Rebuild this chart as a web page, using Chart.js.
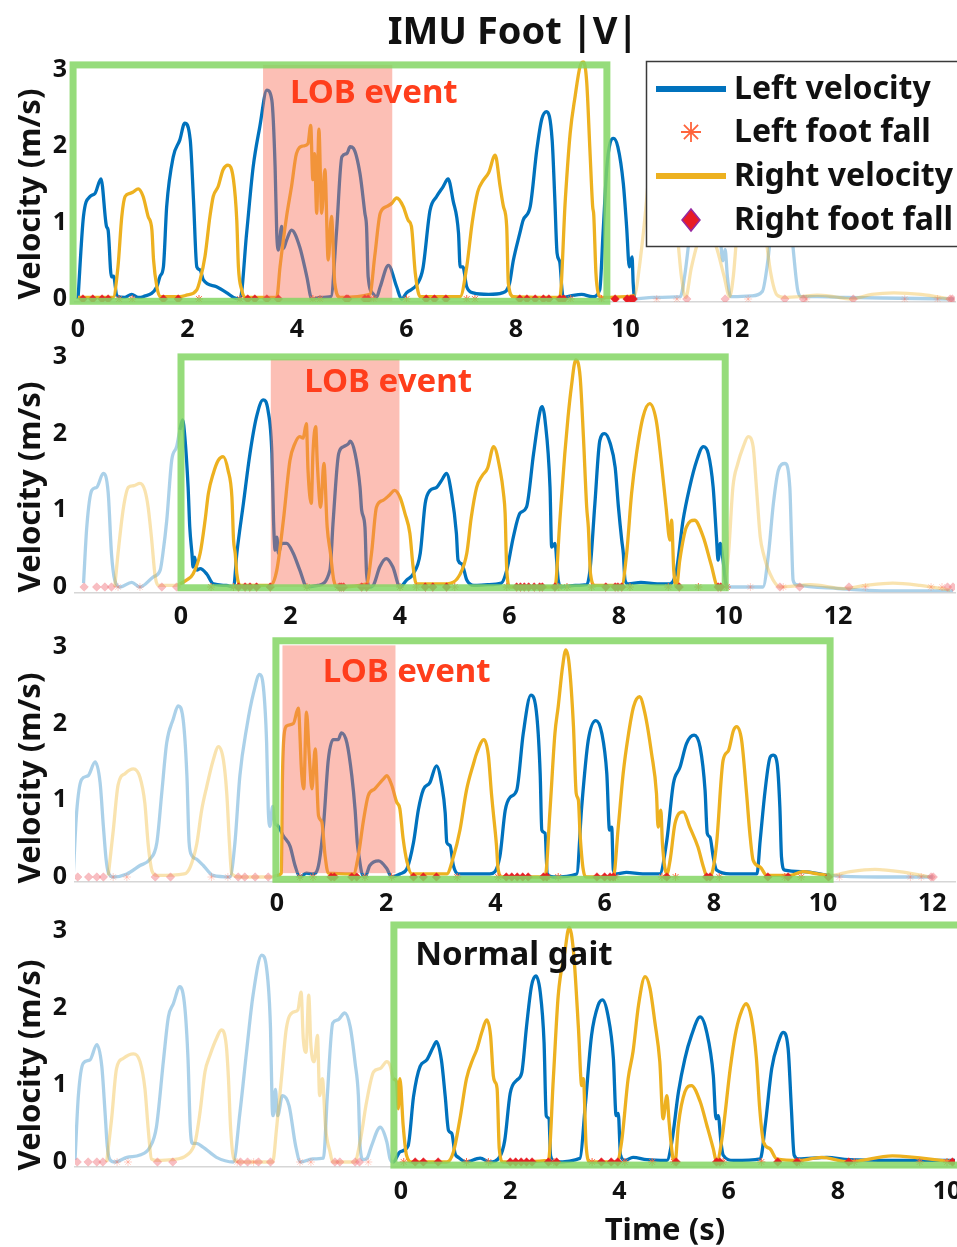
<!DOCTYPE html>
<html><head><meta charset="utf-8">
<script src="https://cdn.jsdelivr.net/npm/chart.js@4.4.1/dist/chart.umd.min.js"></script>
<style>
html,body{margin:0;padding:0;background:#fff;}
#wrap{position:relative;width:957px;height:1247px;overflow:hidden;background:#fff;}
canvas{position:absolute;left:0;}
</style></head><body><div id="wrap">
<canvas id="c1" width="957" height="340" style="top:0px"></canvas>
<canvas id="c2" width="957" height="290" style="top:340px"></canvas>
<canvas id="c3" width="957" height="290" style="top:630px"></canvas>
<canvas id="c4" width="957" height="327" style="top:920px"></canvas>
</div>
<script>
// ---------------- DATA (time s, velocity m/s) ----------------
const p1LeftVel = [[0,0],[0.1,1.08],[0.22,1.34],[0.31,1.38],[0.42,1.57],[0.52,0.95],[0.55,0.9],[0.61,0.29],[0.65,0.3],[0.71,0.04],[0.85,0.02],[0.98,0.06],[1.1,0.02],[1.19,0.03],[1.44,0.16],[1.5,0.3],[1.56,0.42],[1.62,1.21],[1.74,1.86],[1.86,2.08],[1.95,2.3],[2.05,2.08],[2.11,1.29],[2.17,0.42],[2.23,0.38],[2.29,0.25],[2.53,0.16],[2.72,0.08],[2.84,0.02],[2.96,0],[3.08,0.86],[3.2,1.73],[3.32,2.25],[3.45,2.73],[3.54,2.6],[3.6,1.73],[3.63,0.86],[3.66,0.64],[3.72,0.95],[3.75,0.66],[3.81,0.77],[3.9,0.9],[4.05,0.68],[4.18,0.29],[4.27,0],[4.42,0.02],[4.62,0.03],[4.72,0.86],[4.82,1.86],[4.91,1.9],[4.97,1.99],[5.03,1.97],[5.15,1.64],[5.24,1.12],[5.27,0.95],[5.3,0.29],[5.39,0.07],[5.45,0.02],[5.52,0.16],[5.67,0.44],[5.82,0.16],[5.91,0],[6.0,0.08],[6.2,0.2],[6.3,0.4],[6.43,1.16],[6.55,1.34],[6.67,1.47],[6.76,1.57],[6.85,1.29],[6.95,0.86],[6.98,0.42],[7.03,0.42],[7.1,0.16],[7.22,0.08],[7.5,0.06],[7.75,0.08],[7.88,0.2],[7.95,0.5],[8.07,0.86],[8.13,1.03],[8.26,1.21],[8.38,1.95],[8.47,2.35],[8.56,2.45],[8.66,2.08],[8.71,1.29],[8.75,0.6],[8.8,0.48],[8.84,0.12],[8.86,0.02],[9.0,0.04],[9.2,0.06],[9.4,0.03],[9.53,0.12],[9.59,0.86],[9.66,1.73],[9.72,2.04],[9.78,2.1],[9.86,1.99],[9.96,1.51],[10.02,0.95],[10.07,0.42],[10.12,0.55],[10.14,0.21],[10.17,0],[10.5,0.02],[11.0,0.03],[11.08,0.3],[11.2,1.0],[11.35,1.7],[11.5,1.85],[11.62,1.5],[11.72,0.9],[11.78,0.5],[11.82,0.65],[11.86,0.3],[11.92,0.03],[12.3,0.04],[12.5,0.1],[12.6,0.5],[12.72,1.3],[12.85,1.6],[12.97,1.4],[13.07,0.6],[13.15,0.1],[13.22,0.03],[13.5,0.03],[14.0,0.02],[15.0,0.01],[16.0,0]];
const p1RightVel = [[0,0.02],[0.64,0.02],[0.73,0.42],[0.8,1.08],[0.86,1.34],[0.95,1.38],[1.01,1.4],[1.1,1.44],[1.19,1.34],[1.28,1.08],[1.35,0.9],[1.38,0.51],[1.44,0.16],[1.5,0.03],[1.86,0.03],[1.98,0.05],[2.17,0.12],[2.23,0.25],[2.32,0.56],[2.41,1.08],[2.47,1.34],[2.56,1.47],[2.65,1.69],[2.74,1.75],[2.84,1.56],[2.9,1.03],[2.93,0.42],[2.99,0.12],[3.05,0.02],[3.63,0.02],[3.69,0.42],[3.81,1.08],[3.9,1.47],[3.99,1.9],[4.11,2.0],[4.2,2.03],[4.25,2.27],[4.29,1.56],[4.32,1.9],[4.36,1.12],[4.4,2.22],[4.45,1.12],[4.51,1.69],[4.57,0.51],[4.63,1.08],[4.69,0.21],[4.79,0.02],[5.33,0.06],[5.42,0.56],[5.52,1.12],[5.64,1.21],[5.73,1.25],[5.82,1.32],[5.94,1.21],[6.03,1.03],[6.09,0.95],[6.16,0.34],[6.25,0.03],[6.98,0.03],[7.1,0.42],[7.2,1.0],[7.3,1.4],[7.4,1.55],[7.5,1.65],[7.62,1.88],[7.71,1.47],[7.77,1.21],[7.83,0.95],[7.86,0.21],[7.95,0.03],[8.8,0.02],[8.9,1.29],[8.99,2.17],[9.08,2.65],[9.17,3.04],[9.23,3.1],[9.29,2.85],[9.35,1.95],[9.4,1.21],[9.42,1.1],[9.46,0.34],[9.5,0.08],[9.56,0.02],[10.0,0.03],[10.17,0.05],[10.25,0.4],[10.36,1.1],[10.45,1.8],[10.6,2.4],[10.72,2.1],[10.85,1.2],[10.95,0.8],[11.02,0.3],[11.1,0.02],[11.2,0.4],[11.35,0.8],[11.5,0.9],[11.65,0.7],[11.8,0.3],[11.9,0.03],[11.97,0.3],[12.04,0.9],[12.15,1.6],[12.3,2.0],[12.42,1.7],[12.55,0.9],[12.65,0.35],[12.77,0.05],[12.9,0.02],[13.2,0.03],[13.5,0.05],[13.8,0.03],[14.1,0],[14.5,0.06],[14.9,0.08],[15.4,0.06],[15.93,0]];
const p1LeftFall = [0.75,0.99,2.21,2.96,4.29,4.42,5.4,6.0,7.1,7.25,8.86,9.0,9.56,10.57,10.94,12.24,13.3,15.1,15.7];
const p1RightFall = [0.09,0.27,0.44,0.55,1.56,1.83,3.1,3.23,3.45,3.66,4.9,4.93,5.24,5.3,6.36,6.51,6.72,8.07,8.2,8.35,8.5,8.6,8.8,8.87,9.81,10.03,10.1,10.14,11.12,11.82,12.91,13.25,14.16,15.93,15.97];

const p2LeftVel = [[-1.78,0.05],[-1.72,0.79],[-1.63,1.26],[-1.54,1.3],[-1.42,1.48],[-1.33,1.23],[-1.27,0.44],[-1.21,0.09],[-1.11,0],[-0.9,0.06],[-0.75,0],[-0.51,0.13],[-0.38,0.22],[-0.33,0.44],[-0.26,0.87],[-0.17,1.65],[-0.08,1.83],[-0.02,2.05],[0.03,2.18],[0.07,1.96],[0.13,1.3],[0.16,0.78],[0.2,0.44],[0.22,0.26],[0.25,0.39],[0.29,0.22],[0.35,0.24],[0.47,0.17],[0.59,0.04],[0.83,0.02],[0.96,0],[1.02,0.44],[1.14,1.09],[1.26,1.74],[1.38,2.22],[1.5,2.44],[1.59,2.3],[1.66,1.74],[1.69,0.87],[1.72,0.48],[1.75,0.65],[1.78,0.44],[1.84,0.57],[1.93,0.57],[2.05,0.44],[2.17,0.22],[2.3,0],[2.5,0.02],[2.72,0.22],[2.78,0.87],[2.88,1.74],[2.97,1.83],[3.06,1.87],[3.09,1.9],[3.18,1.74],[3.27,1.3],[3.3,1.0],[3.36,0.78],[3.39,0.17],[3.45,0],[3.52,0.03],[3.63,0.26],[3.75,0.37],[3.87,0.26],[4.0,0],[4.12,0.09],[4.24,0.17],[4.37,0.44],[4.46,1.09],[4.55,1.26],[4.67,1.3],[4.76,1.39],[4.85,1.48],[4.94,1.22],[5.03,0.7],[5.06,0.35],[5.13,0.3],[5.22,0.09],[5.35,0.02],[5.6,0.03],[5.85,0.05],[5.95,0.22],[6.07,0.65],[6.19,0.96],[6.31,1.04],[6.44,1.74],[6.56,2.3],[6.6,2.35],[6.65,2.17],[6.74,1.3],[6.77,0.52],[6.83,0.57],[6.89,0.09],[6.95,0],[7.2,0.02],[7.41,0.03],[7.47,0.22],[7.56,1.09],[7.65,1.91],[7.74,2.0],[7.84,1.87],[7.93,1.56],[7.99,1.04],[8.05,0.61],[8.08,0.43],[8.11,0.09],[8.17,0.04],[8.4,0.06],[8.7,0.04],[8.93,0.04],[9.05,0.22],[9.17,0.87],[9.29,1.3],[9.42,1.65],[9.54,1.83],[9.63,1.74],[9.72,1.3],[9.78,0.65],[9.81,0.35],[9.85,0.57],[9.9,0.35],[9.97,0],[10.3,0],[10.63,0],[10.73,0.43],[10.82,1.09],[10.91,1.52],[11.03,1.61],[11.12,1.3],[11.15,0.65],[11.18,0.09],[11.24,0.03],[12.0,-0.02],[13.0,-0.05],[14.1,-0.05]];
const p2RightVel = [[-1.21,0],[-1.15,0.44],[-1.05,1.04],[-0.96,1.3],[-0.87,1.32],[-0.75,1.35],[-0.66,1.26],[-0.6,1.04],[-0.54,0.65],[-0.47,0.13],[-0.41,0.02],[-0.1,0.02],[-0.02,0.04],[0.1,0.09],[0.22,0.17],[0.35,0.44],[0.44,0.87],[0.5,1.22],[0.59,1.48],[0.68,1.65],[0.77,1.7],[0.86,1.52],[0.93,1.17],[0.96,0.61],[0.99,0.44],[1.02,0.17],[1.08,0.02],[1.63,0.02],[1.75,0.22],[1.87,0.87],[1.99,1.65],[2.08,1.87],[2.17,1.96],[2.23,1.94],[2.29,2.13],[2.32,1.52],[2.38,1.09],[2.41,1.74],[2.46,2.09],[2.49,1.61],[2.55,1.04],[2.61,1.61],[2.67,0.78],[2.73,0.44],[2.79,0.09],[2.87,0],[3.39,0.04],[3.48,0.44],[3.57,1.04],[3.69,1.13],[3.81,1.2],[3.9,1.26],[4.0,1.17],[4.09,0.96],[4.18,0.7],[4.24,0.26],[4.3,0.04],[4.85,0.04],[5.1,0.17],[5.22,0.44],[5.3,0.9],[5.4,1.3],[5.5,1.45],[5.6,1.55],[5.71,1.83],[5.83,1.52],[5.89,1.22],[5.92,0.96],[5.95,0.22],[6.01,0],[6.83,0],[6.92,0.87],[7.01,1.74],[7.07,2.22],[7.13,2.61],[7.21,2.96],[7.29,2.74],[7.35,1.96],[7.41,1.04],[7.44,0.78],[7.48,0.17],[7.56,0.02],[8.05,0.02],[8.14,0.44],[8.23,1.22],[8.32,1.74],[8.44,2.22],[8.56,2.39],[8.68,2.17],[8.77,1.65],[8.86,1.04],[8.93,0.61],[8.96,0.87],[9.0,0.22],[9.05,0],[9.11,0.35],[9.23,0.78],[9.38,0.87],[9.54,0.65],[9.68,0.3],[9.81,0],[9.92,0.02],[10.0,0.43],[10.08,1.3],[10.17,1.61],[10.27,1.83],[10.36,1.96],[10.45,1.83],[10.51,1.3],[10.58,0.65],[10.64,0.43],[10.76,0.17],[10.94,0],[11.5,0.03],[12.1,-0.02],[12.5,0.02],[13.0,0.05],[13.5,0.02],[14.05,-0.04]];
const p2LeftFall = [-1.15,-0.75,0.55,0.96,2.3,2.87,4.0,4.3,5.0,5.95,6.9,7.05,7.5,8.2,8.9,9.45,9.97,10.4,11.0,12.5,13.7,13.9];
const p2RightFall = [-1.77,-1.54,-1.39,-1.27,-0.35,-0.08,1.05,1.17,1.26,1.38,1.63,2.9,2.93,2.97,3.3,3.39,4.46,4.6,4.85,6.13,6.2,6.27,6.35,6.45,6.55,6.6,6.83,7.76,7.93,7.98,8.05,9.1,9.81,9.86,10.94,11.3,12.2,14.0,14.1];

const p3LeftVel = [[-3.73,0.05],[-3.67,0.84],[-3.58,1.27],[-3.46,1.32],[-3.33,1.5],[-3.24,1.23],[-3.18,0.66],[-3.13,0.23],[-3.09,0.06],[-3.0,0],[-2.75,0.04],[-2.51,0.15],[-2.33,0.23],[-2.2,0.45],[-2.11,1.1],[-2.02,1.75],[-1.9,2.06],[-1.81,2.23],[-1.72,2.06],[-1.65,1.32],[-1.61,0.45],[-1.56,0.28],[-1.47,0.23],[-1.35,0.15],[-1.17,0.02],[-0.86,0],[-0.77,0.45],[-0.68,1.32],[-0.55,1.97],[-0.43,2.4],[-0.32,2.64],[-0.25,2.48],[-0.19,1.75],[-0.16,0.88],[-0.13,0.66],[-0.08,0.92],[-0.04,0.7],[0,0.68],[0.12,0.53],[0.24,0.4],[0.33,0.15],[0.42,0],[0.54,0.05],[0.66,0.04],[0.76,0.15],[0.85,0.66],[0.94,1.53],[1.03,1.79],[1.12,1.79],[1.18,1.88],[1.28,1.75],[1.37,1.32],[1.43,0.88],[1.47,0.45],[1.51,0.23],[1.55,0.06],[1.61,0],[1.7,0.15],[1.86,0.21],[2.01,0.11],[2.1,0],[2.25,0.04],[2.38,0.11],[2.5,0.45],[2.59,0.88],[2.68,1.14],[2.8,1.23],[2.92,1.45],[3.02,1.19],[3.08,0.84],[3.11,0.45],[3.17,0.41],[3.23,0.15],[3.32,0.04],[3.6,0.04],[3.9,0.04],[4.08,0.26],[4.18,0.87],[4.27,1.04],[4.39,1.13],[4.51,1.87],[4.65,2.37],[4.76,2.09],[4.82,1.35],[4.85,0.61],[4.91,0.57],[4.95,0.04],[5.06,0],[5.49,0.04],[5.58,0.91],[5.7,1.78],[5.84,2.04],[5.95,1.87],[6.04,1.35],[6.09,0.61],[6.13,0.65],[6.16,0.09],[6.22,0.04],[6.4,0.06],[6.7,0.04],[7.01,0.04],[7.14,0.48],[7.26,1.22],[7.38,1.43],[7.5,1.74],[7.64,1.85],[7.75,1.69],[7.84,1.13],[7.88,0.57],[7.93,0.52],[7.99,0.26],[8.05,0.09],[8.3,0.04],[8.79,0.04],[8.85,0.48],[8.94,1.13],[9.03,1.56],[9.09,1.59],[9.16,1.48],[9.21,0.91],[9.24,0.26],[9.3,0.09],[9.64,0.07],[10.13,0.02],[11.0,0],[12.01,0]];
const p3RightVel = [[-3.09,0.02],[-3.0,0.6],[-2.91,1.2],[-2.78,1.35],[-2.63,1.41],[-2.51,1.3],[-2.42,0.96],[-2.36,0.43],[-2.29,0.08],[-2.2,0.02],[-1.7,0.04],[-1.59,0.13],[-1.47,0.43],[-1.38,0.87],[-1.29,1.17],[-1.17,1.52],[-1.07,1.7],[-0.98,1.52],[-0.92,1.09],[-0.87,0.43],[-0.83,0.04],[-0.68,0],[-0.1,0],[0,0.02],[0.08,0.05],[0.1,1.3],[0.13,1.85],[0.18,1.97],[0.3,2.0],[0.39,2.2],[0.45,1.37],[0.49,1.15],[0.54,2.15],[0.59,1.59],[0.64,1.15],[0.7,1.67],[0.76,0.8],[0.82,0.72],[0.88,0.28],[0.94,0.05],[1.4,0.04],[1.49,0.28],[1.58,0.72],[1.67,1.06],[1.79,1.15],[1.95,1.28],[2.01,1.32],[2.1,1.2],[2.19,0.98],[2.25,0.89],[2.31,0.5],[2.38,0.2],[2.47,0.04],[3.11,0.04],[3.23,0.26],[3.35,0.61],[3.47,1.13],[3.6,1.48],[3.66,1.62],[3.79,1.79],[3.87,1.59],[3.93,1.07],[3.96,0.85],[4.02,0.41],[4.05,0.1],[4.12,0],[4.91,0],[5.0,0.87],[5.09,1.87],[5.15,2.22],[5.23,2.74],[5.29,2.96],[5.35,2.78],[5.43,1.96],[5.48,1.09],[5.52,1.0],[5.55,0.57],[5.61,0.09],[5.67,0],[6.16,0],[6.25,0.65],[6.34,1.35],[6.43,1.83],[6.53,2.22],[6.64,2.35],[6.74,2.13],[6.86,1.61],[6.95,1.09],[6.98,0.65],[7.03,0.87],[7.06,0.43],[7.14,0.04],[7.2,0.22],[7.29,0.7],[7.44,0.85],[7.56,0.65],[7.71,0.39],[7.81,0.13],[7.88,0],[7.96,0.04],[8.05,0.43],[8.17,1.52],[8.27,1.65],[8.36,1.91],[8.42,1.96],[8.51,1.78],[8.6,1.09],[8.66,0.57],[8.72,0.22],[8.85,0.13],[8.97,0.02],[9.4,0.02],[9.63,0.07],[9.9,0.04],[10.13,0.02],[10.5,0.07],[10.95,0.1],[11.5,0.06],[11.96,0]];
const p3LeftFall = [-3.0,-2.75,-1.2,-0.9,0.42,0.66,1.61,2.1,3.3,4.05,4.95,5.15,6.2,7.05,7.3,8.1,9.3,9.6,10.3,11.6,11.8];
const p3RightFall = [-3.65,-3.45,-3.3,-3.18,-2.23,-1.95,-0.71,-0.59,-0.4,-0.16,0.99,1.05,1.37,1.46,2.5,2.68,2.92,4.2,4.3,4.4,4.5,4.6,4.88,4.94,5.86,6.0,6.1,6.16,7.14,7.87,7.93,8.99,9.36,10.1,11.98,12.02];

const p4LeftVel = [[-5.97,0.03],[-5.91,0.85],[-5.82,1.28],[-5.7,1.32],[-5.57,1.52],[-5.48,1.24],[-5.42,0.64],[-5.38,0.21],[-5.33,0.03],[-5.24,0],[-5.02,0.06],[-4.78,0.09],[-4.6,0.19],[-4.48,0.45],[-4.35,1.32],[-4.26,1.88],[-4.17,2.05],[-4.05,2.27],[-3.96,2.01],[-3.9,1.32],[-3.86,0.45],[-3.82,0.24],[-3.75,0.24],[-3.62,0.19],[-3.38,0.06],[-3.07,0],[-2.95,0.64],[-2.83,1.42],[-2.71,2.16],[-2.55,2.68],[-2.46,2.5],[-2.39,1.73],[-2.36,0.73],[-2.34,0.6],[-2.3,0.94],[-2.26,0.6],[-2.17,0.86],[-2.05,0.73],[-1.93,0.21],[-1.84,0],[-1.62,0.04],[-1.42,0.05],[-1.35,0.85],[-1.25,1.8],[-1.16,1.84],[-1.03,1.93],[-0.93,1.75],[-0.84,1.28],[-0.78,0.85],[-0.75,0.21],[-0.69,0.03],[-0.62,0.05],[-0.54,0.21],[-0.38,0.45],[-0.26,0.26],[-0.2,0.04],[-0.14,0],[-0.02,0.13],[0.13,0.21],[0.23,0.85],[0.35,1.24],[0.47,1.32],[0.59,1.49],[0.65,1.56],[0.74,1.32],[0.81,0.85],[0.87,0.41],[0.93,0.37],[0.99,0.11],[1.05,0.06],[1.2,0],[1.38,0.04],[1.45,0.05],[1.63,0],[1.81,0.07],[1.9,0.28],[2.0,0.89],[2.12,1.06],[2.21,1.15],[2.3,1.76],[2.39,2.28],[2.47,2.41],[2.55,2.2],[2.62,1.55],[2.66,0.6],[2.71,0.56],[2.74,0.08],[2.82,0],[3.28,0.05],[3.37,0.69],[3.49,1.64],[3.61,2.03],[3.69,2.1],[3.79,1.9],[3.89,1.34],[3.94,0.6],[3.98,0.63],[4.02,0.09],[4.1,0.02],[4.25,0.06],[4.5,0.03],[4.87,0.02],[4.96,0.26],[5.08,0.9],[5.2,1.34],[5.32,1.64],[5.48,1.88],[5.6,1.68],[5.72,1.12],[5.77,0.56],[5.81,0.6],[5.86,0.26],[5.9,0.09],[6.09,0.02],[6.58,0.04],[6.67,0.47],[6.79,1.21],[6.91,1.55],[7.0,1.68],[7.09,1.47],[7.15,0.69],[7.2,0.09],[7.28,0.04],[7.8,0.06],[8.2,0.03],[9.0,0.02],[10.15,0.02]];
const p4RightVel = [[-5.39,0],[-5.3,0.56],[-5.21,1.21],[-5.09,1.34],[-4.9,1.4],[-4.78,1.3],[-4.69,0.95],[-4.63,0.43],[-4.57,0.04],[-4.47,0.02],[-4.2,0.03],[-3.92,0.09],[-3.77,0.26],[-3.68,0.65],[-3.59,1.17],[-3.5,1.38],[-3.38,1.6],[-3.29,1.71],[-3.2,1.51],[-3.16,1.08],[-3.12,0.43],[-3.06,0.04],[-2.95,0],[-2.35,0],[-2.28,0.43],[-2.19,1.08],[-2.1,1.73],[-1.98,1.94],[-1.89,1.97],[-1.83,2.2],[-1.79,1.6],[-1.74,1.42],[-1.69,2.16],[-1.65,1.51],[-1.59,1.3],[-1.53,1.64],[-1.49,0.86],[-1.44,1.08],[-1.38,0.43],[-1.3,0.13],[-1.25,0],[-0.85,0],[-0.75,0.26],[-0.63,0.78],[-0.5,1.17],[-0.38,1.21],[-0.26,1.3],[-0.2,1.25],[-0.14,1.08],[-0.08,1.04],[-0.05,0.69],[-0.02,1.08],[0.04,0.47],[0.1,0.09],[0.2,0],[0.84,0],[0.96,0.13],[1.08,0.56],[1.2,1.08],[1.32,1.34],[1.39,1.46],[1.48,1.68],[1.57,1.84],[1.64,1.64],[1.69,1.12],[1.72,1.04],[1.76,0.95],[1.8,0.17],[1.87,0],[2.7,0.02],[2.79,1.08],[2.88,2.16],[3.0,2.72],[3.08,3.04],[3.16,2.72],[3.25,1.73],[3.31,0.99],[3.34,1.08],[3.39,0.22],[3.46,0],[3.95,0],[4.04,0.26],[4.16,1.08],[4.25,1.43],[4.35,2.03],[4.47,2.4],[4.56,2.25],[4.65,1.81],[4.74,1.3],[4.8,0.56],[4.87,0.86],[4.91,0.52],[4.98,0.05],[5.02,0],[5.08,0.48],[5.2,0.91],[5.32,0.99],[5.48,0.78],[5.6,0.48],[5.72,0.17],[5.78,0],[5.87,0.26],[6.03,1.21],[6.12,1.64],[6.21,1.9],[6.32,2.05],[6.42,1.86],[6.51,1.34],[6.57,0.69],[6.64,0.26],[6.76,0.17],[6.88,0.04],[7.3,0.02],[7.7,0.06],[8.2,0],[9.0,0.08],[10.1,0]];
const p4LeftFall = [-5.2,-5.0,-3.0,-2.7,-1.85,-1.65,-0.6,0.05,1.2,1.6,2.8,3.5,4.1,4.6,5.0,5.9,6.6,7.3,8.3,9.5,10.0];
const p4RightFall = [-5.93,-5.73,-5.57,-5.46,-4.46,-4.18,-2.94,-2.81,-2.61,-2.39,-1.21,-1.12,-0.84,-0.76,0.26,0.41,0.68,2.0,2.1,2.2,2.3,2.4,2.7,2.85,3.67,3.85,3.97,5.04,5.78,5.84,6.9,7.25,8.2,10.1];

// tick labels
const yTickLabels = [0,1,2,3];
const p1TimeTicks = [0,2,4,6,8,10,12];
const p2TimeTicks = [0,2,4,6,8,10,12];
const p3TimeTicks = [0,2,4,6,8,10,12];
const p4TimeTicks = [0,2,4,6,8,10];

// highlighted windows (time range, velocity range) and event spans
const p1Window = [-0.09, 9.66, -0.03, 3.06];
const p2Window = [0, 9.94, -0.01, 3.0];
const p3Window = [-0.02, 10.13, -0.03, 3.08];
const p4Window = [-0.13, 10.6, -0.04, 3.07];
const p1LOB = [3.38, 5.74, -0.03, 3.06];
const p2LOB = [1.64, 3.99, 0, 2.97];
const p3LOB = [0.1, 2.17, 0.05, 3.02];
const p1Bright = [-1, 10.18];
const p2Bright = [-0.03, 9.98];
const p3Bright = [-0.01, 10.14];
const p4Bright = [-0.15, 20];
const labelLOB = 'LOB event';
const labelNormal = 'Normal gait';
const p1Notes = [[labelLOB, 3.87, 2.69]];
const p2Notes = [[labelLOB, 2.25, 2.66]];
const p3Notes = [[labelLOB, 0.84, 2.67]];
const p4Notes = [[labelNormal, 0.26, 2.67]];

// ---------------- STYLE ----------------
const FONT = '"Noto Sans", "Open Sans", sans-serif';
const BLUE = 'rgb(0,114,189)', BLUE_F = 'rgba(0,114,189,0.33)';
const ORANGE = 'rgb(237,177,32)', ORANGE_F = 'rgba(237,177,32,0.36)';
const DIAM = 'rgb(232,28,36)', DIAM_F = 'rgba(240,110,120,0.45)';
const STAR = 'rgb(255,100,60)', STAR_F = 'rgba(255,110,80,0.3)';

function xy(a){ return a.map(p => ({x:p[0], y:p[1]})); }
function ground(a){ return a.map(t => ({x:t, y:0})); }
function inR(r, v){ return v >= r[0] - 1e-9 && v <= r[1] + 1e-9; }

const deco = {
  id: 'deco',
  afterDatasetsDraw(chart, args, o) {
    const {ctx} = chart, x = chart.scales.x, y = chart.scales.y;
    ctx.save();
    if (o.lob) {
      const [a,b,c,d] = o.lob;
      const X0 = x.getPixelForValue(a), X1 = x.getPixelForValue(b);
      const Y0 = y.getPixelForValue(d), Y1 = y.getPixelForValue(c);
      ctx.fillStyle = 'rgba(248,112,92,0.45)';
      ctx.fillRect(X0, Y0, X1 - X0, Y1 - Y0);
    }
    if (o.box) {
      const [a,b,c,d] = o.box;
      const X0 = x.getPixelForValue(a), X1 = x.getPixelForValue(b);
      const Y0 = y.getPixelForValue(d), Y1 = y.getPixelForValue(c);
      ctx.strokeStyle = 'rgba(132,214,100,0.85)';
      ctx.lineWidth = 7;
      ctx.strokeRect(X0, Y0, X1 - X0, Y1 - Y0);
    }
    (o.notes || []).forEach(n => {
      ctx.font = 'bold 33px ' + FONT;
      ctx.textAlign = 'left'; ctx.textBaseline = 'middle';
      ctx.fillStyle = n[0] === labelLOB ? 'rgb(255,62,28)' : '#111';
      ctx.fillText(n[0], x.getPixelForValue(n[1]), y.getPixelForValue(n[2]));
    });
    ctx.restore();
  },
  afterDraw(chart, args, o) {
    const {ctx} = chart;
    ctx.save();
    ctx.fillStyle = '#111';
    ctx.translate(31, o.yTitleY);
    ctx.rotate(-Math.PI/2);
    ctx.font = 'bold 31px ' + FONT;
    ctx.textAlign = 'center'; ctx.textBaseline = 'middle';
    ctx.fillText('Velocity (m/s)', 0, 0);
    ctx.restore();
    if (o.title) {
      ctx.save();
      ctx.font = 'bold 38px ' + FONT;
      ctx.fillStyle = '#111'; ctx.textAlign = 'center'; ctx.textBaseline = 'middle';
      ctx.fillText(o.title, 513, 33);
      ctx.restore();
    }
    if (o.xTitle) {
      ctx.save();
      ctx.font = 'bold 31px ' + FONT;
      ctx.fillStyle = '#111'; ctx.textAlign = 'center'; ctx.textBaseline = 'middle';
      ctx.fillText(o.xTitle, 665, 311);
      ctx.restore();
    }
    if (o.legend) {
      ctx.save();
      ctx.fillStyle = '#fff';
      ctx.fillRect(646, 61, 320, 186);
      ctx.strokeStyle = '#3a3a3a'; ctx.lineWidth = 1.5;
      ctx.strokeRect(646.5, 61.5, 320, 185);
      const ds = chart.data.datasets;
      const rows = [ds[0], ds[1], ds[2], ds[3]];
      const ys = [89, 132, 176, 220];
      rows.forEach((d, i) => {
        const yy = ys[i];
        if (d.type === 'line' && d.showLine !== false) {
          ctx.strokeStyle = d.borderColor; ctx.lineWidth = 6;
          ctx.beginPath(); ctx.moveTo(656, yy); ctx.lineTo(726, yy); ctx.stroke();
        } else if (d.legendStyle === 'star') {
          ctx.strokeStyle = STAR; ctx.lineWidth = 1.8;
          Chart.helpers.drawPoint(ctx, {pointStyle:'star', radius:10, rotation:0, borderWidth:1.8}, 691, yy);
        } else {
          ctx.fillStyle = DIAM; ctx.strokeStyle = 'rgb(150,40,160)'; ctx.lineWidth = 1.5;
          ctx.beginPath();
          ctx.moveTo(691, yy - 11); ctx.lineTo(700, yy); ctx.lineTo(691, yy + 11); ctx.lineTo(682, yy); ctx.closePath();
          ctx.fill(); ctx.stroke();
        }
        ctx.fillStyle = '#111';
        ctx.font = 'bold 32px ' + FONT;
        ctx.textAlign = 'left'; ctx.textBaseline = 'middle';
        ctx.fillText(d.label, 734, yy + 1);
      });
      ctx.restore();
    }
  }
};

function makePanel(id, cfg) {
  const r = cfg.bright;
  const lineDs = (label, data, c, cf, order) => ({
    type: 'line', label, data: xy(data), borderColor: c, borderWidth: 3.3,
    pointRadius: 0, cubicInterpolationMode: 'monotone', order,
    segment: { borderColor: ctx => (inR(r, ctx.p0.parsed.x) && inR(r, ctx.p1.parsed.x)) ? c : cf }
  });
  const markDs = (label, data, style, c, cf, rad, order) => ({
    type: 'line', label, data: ground(data), showLine: false, legendStyle: style,
    pointStyle: style, pointRadius: rad, pointHoverRadius: rad, order,
    pointBackgroundColor: ctx => inR(r, ctx.raw.x) ? c : cf,
    pointBorderColor: ctx => inR(r, ctx.raw.x) ? c : cf,
    pointBorderWidth: style === 'star' ? 1 : 0.5
  });
  const datasets = [
    lineDs('Left velocity', cfg.left, BLUE, BLUE_F, 3),
    markDs('Left foot fall', cfg.lf, 'star', STAR, STAR_F, 4, 1),
    lineDs('Right velocity', cfg.right, ORANGE, ORANGE_F, 2),
    markDs('Right foot fall', cfg.rf, 'rectRot', DIAM, DIAM_F, 4.3, 0)
  ];
  return new Chart(document.getElementById(id), {
    type: 'line',
    data: { datasets },
    plugins: [deco],
    options: {
      responsive: false, animation: false, events: [],
      layout: { autoPadding: false, padding: { top: cfg.padTop, left: 0, right: 2, bottom: 0 } },
      plugins: { legend: { display: false }, tooltip: { enabled: false }, deco: cfg.deco },
      scales: {
        x: {
          type: 'linear', min: cfg.xmin, max: cfg.xmax,
          grid: { display: false, drawTicks: false },
          border: { display: true, color: '#d6d6d6', width: 1.5 },
          afterBuildTicks: s => { s.ticks = cfg.ticks.map(v => ({value: v})); },
          afterFit: s => { s.height = cfg.xH; s.paddingLeft = 0; s.paddingRight = 0; },
          ticks: { padding: cfg.tickPad, color: '#111', maxRotation: 0, autoSkip: false,
                   font: { family: FONT, size: 25, weight: 'bold' } }
        },
        y: {
          min: cfg.ymin, max: cfg.ymax,
          grid: { display: false, drawTicks: false },
          border: { display: false },
          afterBuildTicks: s => { s.ticks = yTickLabels.map(v => ({value: v})); },
          afterFit: s => { s.width = 75; s.paddingTop = 0; s.paddingBottom = 0; },
          ticks: { padding: 8, color: '#111', font: { family: FONT, size: 25, weight: 'bold' } }
        }
      }
    }
  });
}

function geom(zeroY, ppu, ymin, ymax, top, h) {
  const t = zeroY - ymax * ppu - top;
  const b = zeroY - ymin * ppu - top;
  return { padTop: t, xH: h - b, ymin, ymax };
}

const g1 = geom(299, 76.5, -0.04, 3.12, 0, 340);
makePanel('c1', Object.assign(g1, {
  left: p1LeftVel, right: p1RightVel, lf: p1LeftFall, rf: p1RightFall, ticks: p1TimeTicks,
  xmin: (75-78)/54.75, xmax: (955-78)/54.75, bright: p1Bright, tickPad: 13,
  deco: { box: p1Window, lob: p1LOB, notes: p1Notes, yTitleY: 194, title: 'IMU Foot |V|', legend: true }
}));
const g2 = geom(587, 76.7, -0.07, 3.06, 340, 290);
makePanel('c2', Object.assign(g2, {
  left: p2LeftVel, right: p2RightVel, lf: p2LeftFall, rf: p2RightFall, ticks: p2TimeTicks,
  xmin: (75-181)/54.75, xmax: (955-181)/54.75, bright: p2Bright, tickPad: 10,
  deco: { box: p2Window, lob: p2LOB, notes: p2Notes, yTitleY: 147 }
}));
const g3 = geom(877, 76.7, -0.06, 3.12, 630, 290);
makePanel('c3', Object.assign(g3, {
  left: p3LeftVel, right: p3RightVel, lf: p3LeftFall, rf: p3RightFall, ticks: p3TimeTicks,
  xmin: (75-277)/54.6, xmax: (955-277)/54.6, bright: p3Bright, tickPad: 7,
  deco: { box: p3Window, lob: p3LOB, notes: p3Notes, yTitleY: 148 }
}));
const g4 = geom(1162, 77.2, -0.06, 3.1, 920, 327);
makePanel('c4', Object.assign(g4, {
  left: p4LeftVel, right: p4RightVel, lf: p4LeftFall, rf: p4RightFall, ticks: p4TimeTicks,
  xmin: (75-401)/54.6, xmax: (955-401)/54.6, bright: p4Bright, tickPad: 10,
  deco: { box: p4Window, lob: null, notes: p4Notes, yTitleY: 145, xTitle: 'Time (s)' }
}));
</script>
</body></html>
